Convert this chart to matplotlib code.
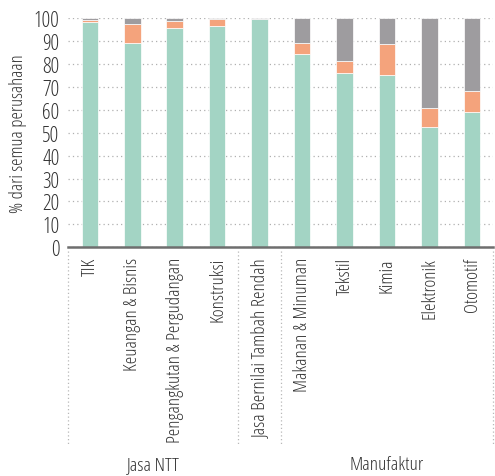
import matplotlib
matplotlib.use("Agg")
import matplotlib.pyplot as plt
import numpy as np

plt.rcParams['font.family'] = ['Open Sans', 'DejaVu Sans']
plt.rcParams['font.stretch'] = 'condensed'
plt.rcParams['font.weight'] = 300

categories = ["TIK", "Keuangan & Bisnis", "Pengangkutan & Pergudangan", "Konstruksi",
              "Jasa Bernilai Tambah Rendah", "Makanan & Minuman", "Tekstil", "Kimia",
              "Elektronik", "Otomotif"]
green = [98.5, 89.3, 95.8, 96.6, 99.7, 84.3, 76.0, 75.1, 52.5, 59.0]
orange = [0.9, 8.2, 2.9, 3.0, 0.2, 5.0, 5.2, 13.7, 8.3, 9.1]
gray = [0.6, 2.5, 1.3, 0.4, 0.1, 10.7, 18.8, 11.2, 39.2, 31.9]
groups = [("Jasa NTT", 0, 3), ("", 4, 4), ("Manufaktur", 5, 9)]
yticks = list(range(0, 101, 10))

c_green, c_orange, c_gray = '#a3d4c4', '#f4a37c', '#9e9c9f'
txt = '#333333'

fig = plt.figure(figsize=(4.95, 4.77), dpi=100)
ax = fig.add_axes([0.137, 0.4795, 0.859, 0.48])
x = np.arange(len(categories))
w = 0.39
g = np.array(green); o = np.array(orange); r = np.array(gray)
ax.bar(x, g, w, color=c_green, edgecolor='white', linewidth=0.5, zorder=3)
ax.bar(x, o, w, bottom=g, color=c_orange, edgecolor='white', linewidth=0.5, zorder=3)
ax.bar(x, r, w, bottom=g + o, color=c_gray, edgecolor='white', linewidth=0.5, zorder=3)

ax.set_xlim(-0.52, 9.5)
ax.set_ylim(0, 100)
ax.set_yticks(yticks)
ax.set_yticklabels([str(t) for t in yticks], fontsize=15.5, color=txt)
ax.yaxis.grid(True, linestyle=(0, (1, 2.5)), color='#b0b0b0', linewidth=0.9, zorder=0)
ax.tick_params(axis='y', length=0, pad=6)
ax.set_xticks(x)
ax.set_xticklabels(categories, rotation=90, fontsize=13.8, color=txt, va='top', ha='center')
ax.tick_params(axis='x', length=0, pad=7)
for s in ['top', 'right', 'left']:
    ax.spines[s].set_visible(False)
ax.spines['bottom'].set_color('#6e6e6e')
ax.spines['bottom'].set_linewidth(1.8)
ax.spines['bottom'].set_zorder(4)
ax.set_ylabel("% dari semua perusahaan", fontsize=13.5, color=txt, labelpad=5)

trans = matplotlib.transforms.blended_transform_factory(ax.transData, ax.transAxes)
bounds = [-0.52, 3.5, 4.5, 9.5]
for b in bounds:
    ax.plot([b, b], [-0.016, -0.868], transform=trans, clip_on=False,
            linestyle=(0, (1, 2)), color='#b8b8b8', linewidth=0.9)
for name, a, bnd in groups:
    if name:
        lo = a - 0.5 if a > 0 else -0.52
        hi = bnd + 0.5 if bnd < 9 else 9.5
        ax.text((lo + hi) / 2, -0.946, name, transform=trans, ha='center', va='center',
                fontsize=14, color=txt)

fig.savefig("out.png", dpi=100)
